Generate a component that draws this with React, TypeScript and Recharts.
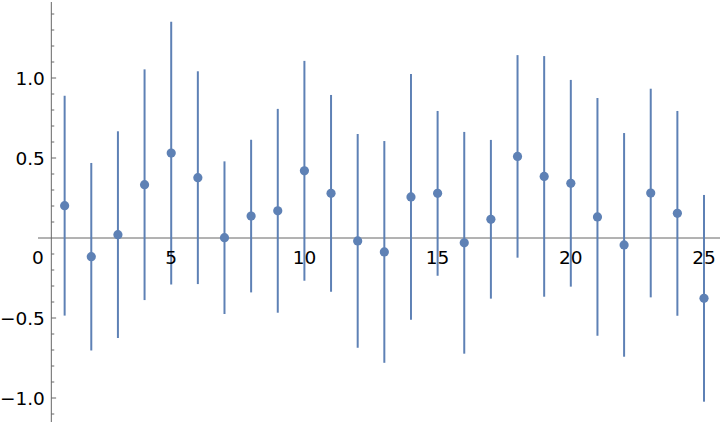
import { ComposedChart, Scatter, ErrorBar, XAxis, YAxis, ReferenceLine, ReferenceDot } from 'recharts';

// measured values, x = 1..25
const xs = [1, 2, 3, 4, 5, 6, 7, 8, 9, 10, 11, 12, 13, 14, 15, 16, 17, 18, 19, 20, 21, 22, 23, 24, 25];
const ys = [0.202, -0.117, 0.021, 0.333, 0.531, 0.377, 0.002, 0.137, 0.170, 0.420, 0.279, -0.018, -0.087,
  0.257, 0.279, -0.030, 0.117, 0.510, 0.385, 0.342, 0.132, -0.043, 0.281, 0.154, -0.377];
const errs = [0.687, 0.586, 0.646, 0.721, 0.821, 0.665, 0.477, 0.477, 0.637, 0.687, 0.615, 0.668, 0.693,
  0.768, 0.515, 0.693, 0.496, 0.633, 0.752, 0.646, 0.743, 0.699, 0.652, 0.640, 0.646];

const xTicks = [0, 5, 10, 15, 20, 25];
const yLabelTicks = [-1.0, -0.5, 0.5, 1.0];
const yLabels = ['\u22121.0', '\u22120.5', '0.5', '1.0'];
const yMinorTicks = [-1.1, -0.9, -0.8, -0.7, -0.6, -0.4, -0.3, -0.2, -0.1,
  0.1, 0.2, 0.3, 0.4, 0.6, 0.7, 0.8, 0.9, 1.1, 1.2, 1.3, 1.4];

const data = xs.map((x, i) => ({ x, y: ys[i], err: errs[i] }));

const BLUE = '#5e81b5';
const AXIS = '#666666';
const FONT = '"DejaVu Sans", sans-serif';
const AXIS_X = 0.5;

export default function App() {
  return (
    <div style={{ position: 'absolute', left: 0, top: 0 }}>
      <ComposedChart width={720} height={424} margin={{ top: 2, right: 0, bottom: 2, left: 38 }}>
        <XAxis type="number" dataKey="x" domain={[0, 25.6]} allowDataOverflow hide />
        <YAxis type="number" dataKey="y" domain={[-1.15, 1.475]} allowDataOverflow hide />

        <ReferenceLine y={0} stroke={AXIS} strokeWidth={1} />
        <ReferenceLine x={AXIS_X} stroke={AXIS} strokeWidth={1} />
        {yMinorTicks.map((v) => (
          <ReferenceLine key={'m' + v} segment={[{ x: AXIS_X, y: v }, { x: AXIS_X + 0.11, y: v }]} stroke={AXIS} />
        ))}
        {yLabelTicks.map((v) => (
          <ReferenceLine key={'M' + v} segment={[{ x: AXIS_X, y: v }, { x: AXIS_X + 0.18, y: v }]} stroke={AXIS} />
        ))}
        {yLabelTicks.map((v, i) => (
          <ReferenceDot key={'l' + v} x={AXIS_X} y={v} r={0} fill="none" stroke="none"
            label={(p: any) => (
              <text x={p.viewBox.x - 6.5} y={p.viewBox.y + 6.7} textAnchor="end" fontSize={18.5} fontFamily={FONT} fill="#000">
                {yLabels[i]}
              </text>
            )} />
        ))}
        {xTicks.map((t) => (
          <ReferenceDot key={'x' + t} x={t} y={0} r={0} fill="none" stroke="none"
            label={(p: any) => (
              <text x={p.viewBox.x} y={p.viewBox.y + 26} textAnchor="middle" fontSize={18.5} fontFamily={FONT} fill="#000">
                {t}
              </text>
            )} />
        ))}

        <Scatter data={data} dataKey="y" fill={BLUE} isAnimationActive={false}
          shape={(p: any) => <circle cx={p.cx} cy={p.cy} r={4.6} fill={BLUE} />}>
          <ErrorBar dataKey="err" direction="y" width={0} stroke={BLUE} strokeWidth={2} />
        </Scatter>
      </ComposedChart>
    </div>
  );
}
